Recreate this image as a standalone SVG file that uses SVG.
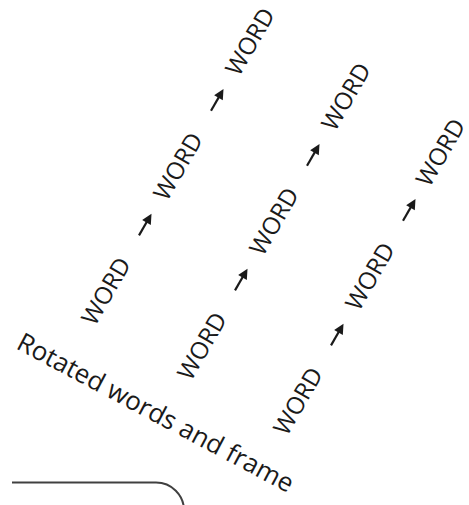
<svg xmlns="http://www.w3.org/2000/svg" width="469" height="505" viewBox="0 0 469 505">
<defs>
<style>
.w{font-family:"Open Sans","Noto Sans",sans-serif;font-size:24px;fill:#1a1a1a;text-anchor:middle}
.lbl{font-family:"Open Sans","Noto Sans",sans-serif;font-size:26px;fill:#1a1a1a}
.frame{fill:none;stroke:#404040;stroke-width:2}
</style>
<g id="arrowShape"><line x1="-12" y1="0" x2="6" y2="0" stroke="#1a1a1a" stroke-width="2.2"/><polygon points="13,0 3,-5 3,5" fill="#1a1a1a"/></g>
</defs>
<rect width="469" height="505" fill="#fff"/>
<g id="words">
<g id="w11" transform="translate(106,291) rotate(-60)"><text class="w" y="8.5">WORD</text></g>
<g id="w12" transform="translate(178,166.3) rotate(-60)"><text class="w" y="8.5">WORD</text></g>
<g id="w13" transform="translate(250,41.6) rotate(-60)"><text class="w" y="8.5">WORD</text></g>
<g id="w21" transform="translate(202,346) rotate(-60)"><text class="w" y="8.5">WORD</text></g>
<g id="w22" transform="translate(274,221.3) rotate(-60)"><text class="w" y="8.5">WORD</text></g>
<g id="w23" transform="translate(346,96.6) rotate(-60)"><text class="w" y="8.5">WORD</text></g>
<g id="w31" transform="translate(298,401) rotate(-60)"><text class="w" y="8.5">WORD</text></g>
<g id="w32" transform="translate(370,276.3) rotate(-60)"><text class="w" y="8.5">WORD</text></g>
<g id="w33" transform="translate(440.5,152.4) rotate(-60)"><text class="w" y="8.5">WORD</text></g>
</g>
<g id="connectors">
<use href="#arrowShape" transform="translate(145,225) rotate(-60)"/>
<use href="#arrowShape" transform="translate(217,100.3) rotate(-60)"/>
<use href="#arrowShape" transform="translate(241,280) rotate(-60)"/>
<use href="#arrowShape" transform="translate(313,155.3) rotate(-60)"/>
<use href="#arrowShape" transform="translate(337,335) rotate(-60)"/>
<use href="#arrowShape" transform="translate(409,210.3) rotate(-60)"/>
</g>
<g id="label" transform="translate(15,348) rotate(28)"><text class="lbl">Rotated words and frame</text></g>
<g id="frame"><path class="frame" d="M12 482.5 H156 A28 28 0 0 1 184 510.5 V520"/></g>
</svg>
